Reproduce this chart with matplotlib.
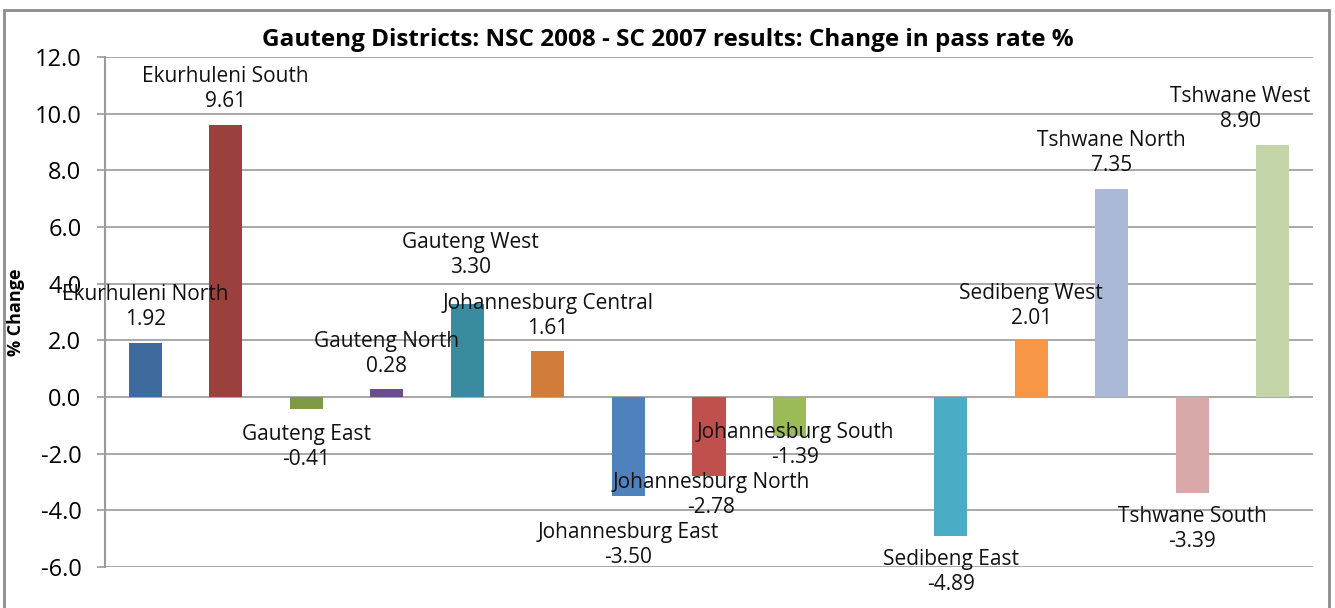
import numpy as np
import matplotlib.pyplot as plt
from matplotlib.patches import Rectangle

# District results, with an unused slot after Johannesburg South
districts = ['Ekurhuleni North', 'Ekurhuleni South', 'Gauteng East', 'Gauteng North',
             'Gauteng West', 'Johannesburg Central', 'Johannesburg East',
             'Johannesburg North', 'Johannesburg South', '', 'Sedibeng East',
             'Sedibeng West', 'Tshwane North', 'Tshwane South', 'Tshwane West']
change = [1.92, 9.61, -0.41, 0.28, 3.30, 1.61, -3.50, -2.78, -1.39, np.nan,
          -4.89, 2.01, 7.35, -3.39, 8.90]
colors = ['#3F6A9E', '#9C403E', '#7F9A45', '#6A4E89', '#3A8BA0', '#D17C3A',
          '#4F81BD', '#C0504D', '#9BBB59', '#ffffff', '#4BACC6', '#F79646',
          '#AAB9D7', '#D9A9A9', '#C4D6A9']
# where each data label sits (centre of the two lines, in data units)
label_y = [3.16, 10.87, -1.75, 1.52, 5.01, 2.86, -5.21, -3.46, -1.71, np.nan,
           -6.18, 3.21, 8.61, -4.66, 10.15]
label_dx = [0, 0, 0, 0, 0.04, 0, 0, 0.03, 0.07, 0, 0, 0, 0, 0, -0.4]
yticks = np.arange(-6, 12.1, 2)

plt.rcParams['font.family'] = ['Open Sans', 'DejaVu Sans']
fig = plt.figure(figsize=(13.35, 6.08), dpi=100)
ax = fig.add_axes([105 / 1335, 41 / 608, 1208 / 1335, 510 / 608])

x = np.arange(len(districts))
ax.bar(x, change, width=0.41, color=colors, zorder=3)

for i, (name, v) in enumerate(zip(districts, change)):
    if np.isnan(v):
        continue
    ax.text(x[i] + label_dx[i], label_y[i], f'{name}\n{v:.2f}', ha='center', va='center',
            fontsize=15, linespacing=1.25, color='#111111', zorder=4)

ax.set_xlim(-0.5, len(districts) - 0.5)
ax.set_ylim(-6, 12)
ax.set_yticks(yticks)
ax.set_yticklabels([f'{t:.1f}' for t in yticks], fontsize=17)
ax.set_xticks([])
ax.yaxis.grid(True, color='#9a9a9a', lw=1.2, zorder=0)
ax.tick_params(axis='y', length=6, width=1.2, color='#9a9a9a', pad=11)
for side in ['top', 'right', 'bottom']:
    ax.spines[side].set_visible(False)
ax.spines['left'].set_color('#9a9a9a')
ax.spines['left'].set_linewidth(1.5)
ax.set_ylabel('% Change', fontsize=13, fontweight='bold')
ax.yaxis.set_label_coords(-0.066, 0.5)

fig.text(0.5, 0.934, 'Gauteng Districts: NSC 2008 - SC 2007 results: Change in pass rate %',
         ha='center', va='center', fontsize=17.5, fontweight='bold')

# chart frame
fig.patches.append(Rectangle((4 / 1335, -0.01), 1325 / 1335, 0.994, transform=fig.transFigure,
                             fill=False, edgecolor='#8c8c8c', lw=2))

fig.savefig('out.png', dpi=100)
